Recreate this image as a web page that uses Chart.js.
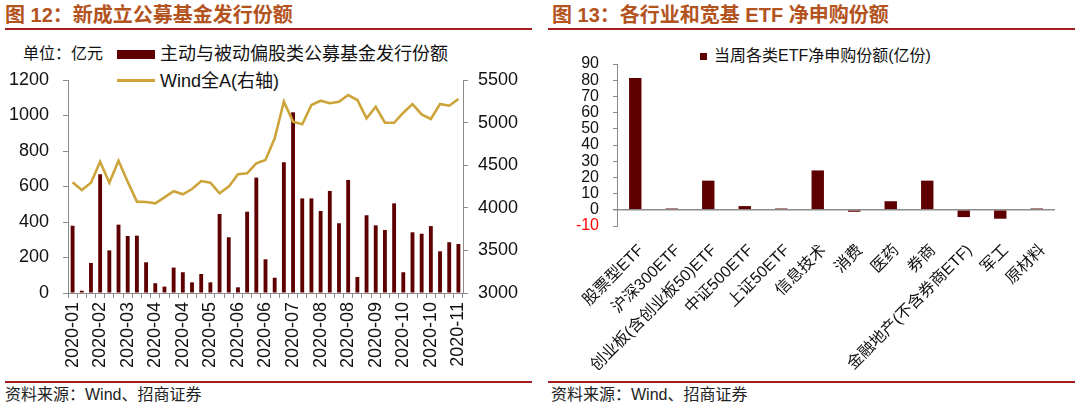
<!DOCTYPE html>
<html>
<head>
<meta charset="utf-8">
<script src="https://cdn.jsdelivr.net/npm/chart.js@4.4.1/dist/chart.umd.min.js"></script>
<style>
  html, body { margin:0; padding:0; background:#fff; }
  body { width:1080px; height:407px; position:relative; overflow:hidden;
         font-family:'Liberation Sans','Noto Sans CJK SC',sans-serif; }
  .abs { position:absolute; white-space:nowrap; }
  .title { font-size:20px; font-weight:bold; color:#B3531D; top:3px; line-height:24px; }
  .rule { position:absolute; height:2px; background:#A31E1E; }
  .src { font-size:16px; color:#222; top:385px; line-height:20px; }
  .leg { font-size:18px; color:#111; line-height:20px; }
  canvas { position:absolute; }
</style>
</head>
<body>
<div class="abs title" style="left:5px;">图 12：新成立公募基金发行份额</div>
<div class="abs title" style="left:552px;">图 13：各行业和宽基 ETF 净申购份额</div>
<div class="rule" style="left:5px; width:527px; top:28px;"></div>
<div class="rule" style="left:548px; width:527px; top:28px;"></div>
<div class="rule" style="left:5px; width:527px; top:381px;"></div>
<div class="rule" style="left:548px; width:527px; top:381px;"></div>
<div class="abs src" style="left:5px;">资料来源：Wind、招商证券</div>
<div class="abs src" style="left:551px;">资料来源：Wind、招商证券</div>

<div class="abs" style="left:23px; top:44px; font-size:16px; color:#111; line-height:20px;">单位：亿元</div>
<div class="abs" style="left:117px; top:50px; width:38px; height:9px; background:#5E0000;"></div>
<div class="abs leg" style="left:160px; top:44px;">主动与被动偏股类公募基金发行份额</div>
<div class="abs" style="left:117px; top:79px; width:38px; height:3px; background:#CCA43A;"></div>
<div class="abs leg" style="left:160px; top:71px;">Wind全A(右轴)</div>

<div class="abs" style="left:700px; top:53px; width:7px; height:7px; background:#5E0000;"></div>
<div class="abs" style="left:714px; top:46px; font-size:16px; color:#111; line-height:20px;">当周各类ETF净申购份额(亿份)</div>

<canvas id="c1" width="540" height="340" style="left:0; top:40px;"></canvas>
<canvas id="c2" width="540" height="340" style="left:540px; top:40px;"></canvas>

<script>
// ---- Left chart data ----
const weekMonths = [
  "2020-01","2020-01","2020-01","2020-02","2020-02","2020-02","2020-03","2020-03","2020-03",
  "2020-04","2020-04","2020-04","2020-04","2020-04","2020-04","2020-05","2020-05","2020-05",
  "2020-06","2020-06","2020-06","2020-06","2020-06","2020-06","2020-07","2020-07","2020-07",
  "2020-08","2020-08","2020-08","2020-08","2020-08","2020-08","2020-09","2020-09","2020-09",
  "2020-10","2020-10","2020-10","2020-10","2020-10","2020-10","2020-11"
];
const fundIssuance = [
  379, 13, 169, 669, 240, 385, 321, 323, 173, 55, 36, 143, 117, 60, 107, 60,
  445, 314, 32, 458, 650, 190, 86, 736, 1018, 533, 533, 462, 575, 393, 637, 90,
  438, 381, 355, 505, 117, 342, 334, 377, 235, 286, 276
];
const windA = [
  4299, 4209, 4295, 4541, 4295, 4553, 4306, 4072, 4068, 4053, 4123, 4194, 4158, 4220, 4314, 4295,
  4170, 4248, 4393, 4405, 4522, 4561, 4816, 5245, 5011, 4980, 5207, 5257, 5227, 5245, 5324, 5265,
  5050, 5186, 4998, 4998, 5116, 5218, 5097, 5042, 5218, 5198, 5277
];
const leftTicks = [0, 1200, 200];
const rightTicks = [3000, 5500, 500];

// ---- Right chart data ----
const etfCategories = ["股票型ETF","沪深300ETF","创业板(含创业板50)ETF","中证500ETF","上证50ETF",
  "信息技术","消费","医药","券商","金融地产(不含券商ETF)","军工","原材料"];
const etfNetSub = [81.3, 0.8, 18, 2.3, 0.8, 24.3, -1.2, 5.3, 18, -4.5, -5.5, 0.8];
const etfTicks = [-10, 90, 10];

const FONT = "'Liberation Sans','Noto Sans CJK SC',sans-serif";
Chart.defaults.font.family = FONT;
Chart.defaults.color = '#111';
const AX = '#8c8c8c';
const plain = v => String(v);

new Chart(document.getElementById('c1'), {
  type: 'bar',
  data: {
    labels: weekMonths,
    datasets: [
      { type:'line', label:'Wind全A(右轴)', data: windA, yAxisID:'y1', borderColor:'#CCA43A',
        borderWidth:2.6, pointRadius:0, tension:0, order:0 },
      { type:'bar', label:'主动与被动偏股类公募基金发行份额', data: fundIssuance, yAxisID:'y',
        backgroundColor:'#5E0000', barPercentage:0.42, categoryPercentage:1, order:1 }
    ]
  },
  options: {
    responsive:false, animation:false,
    layout:{ padding:{ top:40, left:0, right:0, bottom:0 } },
    plugins:{ legend:{display:false}, tooltip:{enabled:false} },
    scales:{
      x:{
        grid:{ display:true, drawOnChartArea:false, tickLength:5, color:AX, offset:true },
        border:{ color:AX, width:1 },
        ticks:{ autoSkip:false, minRotation:90, maxRotation:90, padding:4, font:{size:18},
          callback:function(v, i){ return i % 3 === 0 ? this.getLabelForValue(v) : ''; } },
        afterFit:s=>{ s.height = 87; }
      },
      y:{
        position:'left', min:leftTicks[0], max:leftTicks[1],
        ticks:{ stepSize:leftTicks[2], font:{size:18}, padding:14, callback:plain },
        grid:{ drawOnChartArea:false, tickLength:5, color:AX },
        border:{ color:AX },
        afterFit:s=>{ s.width = 68; }
      },
      y1:{
        position:'right', min:rightTicks[0], max:rightTicks[1],
        ticks:{ stepSize:rightTicks[2], font:{size:18}, padding:10, callback:plain },
        grid:{ drawOnChartArea:false, tickLength:5, color:AX },
        border:{ color:AX },
        afterFit:s=>{ s.width = 77; }
      }
    }
  }
});

new Chart(document.getElementById('c2'), {
  type:'bar',
  data:{
    labels: etfCategories,
    datasets:[{ label:'当周各类ETF净申购份额(亿份)', data: etfNetSub, backgroundColor:'#5E0000',
      barPercentage:0.34, categoryPercentage:1 }]
  },
  options:{
    responsive:false, animation:false,
    layout:{ padding:{ top:24, left:0, right:25, bottom:0 } },
    plugins:{ legend:{display:false}, tooltip:{enabled:false} },
    scales:{
      x:{
        grid:{ display:false },
        border:{ display:false },
        ticks:{ autoSkip:false, minRotation:45, maxRotation:45, padding:7, labelOffset:6, font:{size:16} },
        afterFit:s=>{ s.height = 154; }
      },
      y:{
        min:etfTicks[0], max:etfTicks[1],
        ticks:{ stepSize:etfTicks[2], autoSkip:false, font:{size:16}, padding:14, callback:plain,
          color:ctx => ctx.tick && ctx.tick.value < 0 ? '#FF0000' : '#111' },
        grid:{ drawOnChartArea:true, tickLength:4,
          color:ctx => ctx.tick && ctx.tick.value === 0 ? AX : 'rgba(0,0,0,0)',
          tickColor:AX, lineWidth:ctx => ctx.tick && ctx.tick.value === 0 ? 1.5 : 1 },
        border:{ color:AX },
        afterFit:s=>{ s.width = 77; }
      }
    }
  }
});
</script>
</body>
</html>
